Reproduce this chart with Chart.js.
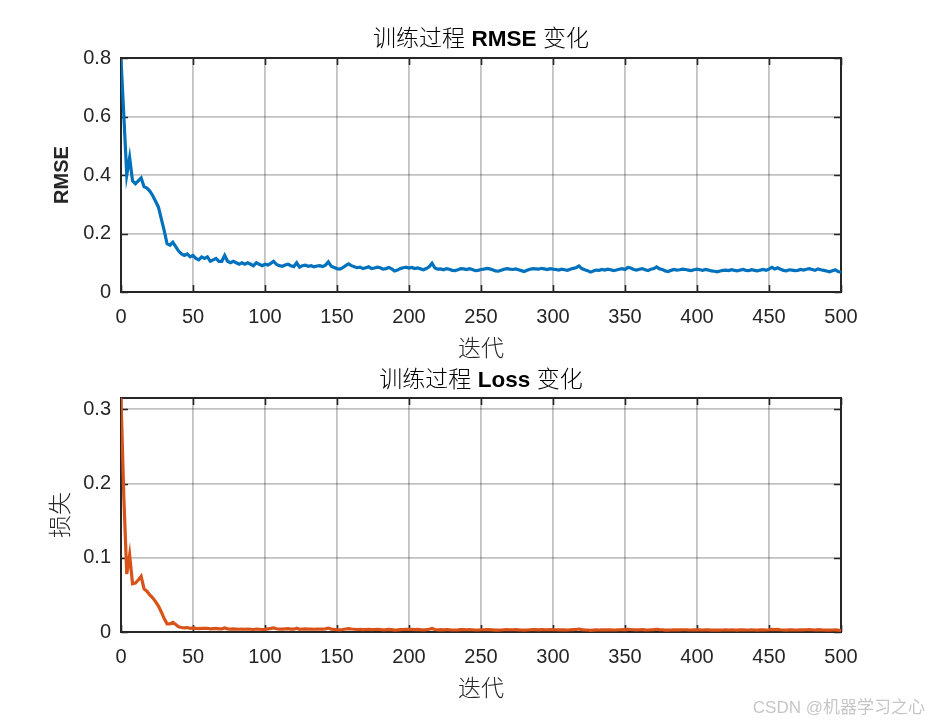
<!DOCTYPE html>
<html>
<head>
<meta charset="utf-8">
<script src="https://cdn.jsdelivr.net/npm/chart.js@4.4.0/dist/chart.umd.min.js"></script>
<style>
  html, body { margin: 0; padding: 0; background: #fff; }
  #wrap { position: relative; width: 930px; height: 720px; overflow: hidden; }
  canvas { position: absolute; left: 0; }
  #c1 { top: 0; }
  #c2 { top: 360px; }
  #mark {
    position: absolute; right: 5px; top: 693px;
    font: 17px 'Liberation Sans', 'Noto Sans CJK SC', sans-serif;
    color: #c6c6c6; white-space: nowrap;
  }
</style>
</head>
<body>
<div id="wrap">
  <canvas id="c1" width="930" height="360"></canvas>
  <canvas id="c2" width="930" height="360"></canvas>
  <div id="mark">CSDN @机器学习之心</div>
</div>
<script>
// ── Data (one value every 2 iterations) ──
const ITER_STEP = 2;

const rmse = [
  0.795, 0.60, 0.40, 0.46, 0.38, 0.37, 0.38, 0.39, 0.36, 0.355,
  0.345, 0.33, 0.31, 0.29, 0.25, 0.21, 0.165, 0.16, 0.17, 0.155,
  0.14, 0.13, 0.125, 0.13, 0.12, 0.125, 0.115, 0.11, 0.12, 0.115,
  0.12, 0.105, 0.11, 0.115, 0.105, 0.105, 0.125, 0.105, 0.10, 0.105,
  0.10, 0.095, 0.10, 0.095, 0.10, 0.095, 0.09, 0.10, 0.095, 0.09,
  0.095,
  0.092, 0.098, 0.105, 0.094, 0.09, 0.088, 0.092, 0.095, 0.09, 0.087,
  0.10, 0.085, 0.09, 0.092, 0.088, 0.09, 0.086, 0.089, 0.09, 0.087,
  0.092, 0.103, 0.088, 0.084, 0.08, 0.078, 0.083, 0.09, 0.096, 0.09,
  0.086, 0.083, 0.085, 0.08, 0.083, 0.086, 0.08, 0.082, 0.085, 0.083,
  0.078, 0.08, 0.084, 0.079, 0.072, 0.075, 0.08, 0.083, 0.085, 0.082,
  0.084, 0.08, 0.082, 0.079, 0.076, 0.08, 0.086, 0.098, 0.082, 0.078,
  0.079, 0.076, 0.08, 0.078, 0.074, 0.073, 0.076, 0.08, 0.079, 0.077,
  0.08, 0.077, 0.073, 0.074, 0.077, 0.078, 0.081, 0.079, 0.076, 0.072,
  0.071, 0.074, 0.078, 0.08, 0.078, 0.077, 0.079, 0.076, 0.073, 0.07,
  0.074, 0.078, 0.08, 0.079, 0.078, 0.081, 0.079, 0.077, 0.08, 0.078,
  0.077, 0.075, 0.078, 0.076, 0.074, 0.078, 0.081, 0.083, 0.089, 0.08,
  0.076, 0.073, 0.068, 0.072, 0.075, 0.074, 0.077, 0.075, 0.078, 0.076,
  0.073, 0.075, 0.078, 0.08, 0.077, 0.084, 0.082, 0.077, 0.075, 0.078,
  0.08, 0.076, 0.073, 0.078, 0.08, 0.086, 0.079, 0.077, 0.072, 0.07,
  0.074, 0.077, 0.075, 0.076, 0.078, 0.077, 0.075, 0.073, 0.076, 0.078,
  0.076, 0.074, 0.077, 0.075, 0.072, 0.071, 0.069, 0.072, 0.074, 0.075,
  0.073, 0.076, 0.074, 0.072, 0.075, 0.077, 0.074, 0.073, 0.076, 0.074,
  0.072, 0.075, 0.077, 0.074, 0.078, 0.084, 0.079, 0.083, 0.078, 0.074,
  0.072, 0.076, 0.075, 0.073, 0.074, 0.077, 0.075, 0.078, 0.08, 0.077,
  0.074, 0.079, 0.076, 0.074, 0.072, 0.069, 0.073, 0.076, 0.07, 0.068
];

const loss = [
  0.3153, 0.18, 0.078, 0.104, 0.065, 0.066, 0.07, 0.075, 0.058, 0.055,
  0.05, 0.046, 0.041, 0.035, 0.027, 0.018, 0.011, 0.011, 0.013, 0.01,
  0.007, 0.006, 0.0055, 0.006, 0.005, 0.0055, 0.0048, 0.0045, 0.005, 0.0048,
  0.005, 0.0042, 0.0045, 0.0048, 0.0042, 0.0042, 0.0055, 0.0042, 0.004, 0.0042,
  0.004, 0.0037, 0.004, 0.0037, 0.004, 0.0037, 0.0034, 0.004, 0.0037, 0.0034,
  0.0036,
  0.0042, 0.0048, 0.0055, 0.0044, 0.004, 0.0039, 0.0042, 0.0045, 0.004, 0.0038,
  0.005, 0.0036, 0.004, 0.0042, 0.0039, 0.004, 0.0037, 0.004, 0.004, 0.0038,
  0.0042, 0.0053, 0.0039, 0.0035, 0.0032, 0.003, 0.0034, 0.004, 0.0046, 0.004,
  0.0037, 0.0034, 0.0036, 0.0032, 0.0034, 0.0037, 0.0032, 0.0034, 0.0036, 0.0034,
  0.003, 0.0032, 0.0035, 0.0031, 0.0026, 0.0028, 0.0032, 0.0034, 0.0036, 0.0034,
  0.0035, 0.0032, 0.0034, 0.0031, 0.0029, 0.0032, 0.0037, 0.0048, 0.0034, 0.003,
  0.0031, 0.0029, 0.0032, 0.003, 0.0027, 0.0027, 0.0029, 0.0032, 0.0031, 0.003,
  0.0032, 0.003, 0.0027, 0.0027, 0.003, 0.003, 0.0033, 0.0031, 0.0029, 0.0026,
  0.0025, 0.0027, 0.003, 0.0032, 0.003, 0.003, 0.0031, 0.0029, 0.0027, 0.0025,
  0.0027, 0.003, 0.0032, 0.0031, 0.003, 0.0033, 0.0031, 0.003, 0.0032, 0.003,
  0.003, 0.0028, 0.003, 0.0029, 0.0027, 0.003, 0.0033, 0.0034, 0.004, 0.0032,
  0.0029, 0.0027, 0.0023, 0.0026, 0.0028, 0.0027, 0.003, 0.0028, 0.003, 0.0029,
  0.0027, 0.0028, 0.003, 0.0032, 0.003, 0.0035, 0.0034, 0.003, 0.0028, 0.003,
  0.0032, 0.0029, 0.0027, 0.003, 0.0032, 0.0037, 0.0031, 0.003, 0.0026, 0.0025,
  0.0027, 0.003, 0.0028, 0.0029, 0.003, 0.003, 0.0028, 0.0027, 0.0029, 0.003,
  0.0029, 0.0027, 0.003, 0.0028, 0.0026, 0.0025, 0.0024, 0.0026, 0.0027, 0.0028,
  0.0027, 0.0029, 0.0027, 0.0026, 0.0028, 0.003, 0.0027, 0.0027, 0.0029, 0.0027,
  0.0026, 0.0028, 0.003, 0.0027, 0.003, 0.0035, 0.0031, 0.0034, 0.003, 0.0027,
  0.0026, 0.0029, 0.0028, 0.0027, 0.0027, 0.003, 0.0028, 0.003, 0.0032, 0.003,
  0.0027, 0.0031, 0.0029, 0.0027, 0.0026, 0.0024, 0.0027, 0.0029, 0.0025, 0.0023
];

const xTicks     = [0, 50, 100, 150, 200, 250, 300, 350, 400, 450, 500];
const rmseTicks  = [0, 0.2, 0.4, 0.6, 0.8];
const lossTicks  = [0, 0.1, 0.2, 0.3];
const rmseMax    = 0.8;
const lossMax    = 0.3153;

// ── Look ───────────────────────────────────────────
const FONT     = "'Liberation Sans', 'Noto Sans CJK SC', sans-serif";
const INK      = '#262626';
const GRID     = 'rgba(0,0,0,0.24)';
const TICK_LEN = 7;
const CJK_SIZE = 23;

// Title with mixed weights, MATLAB-style ("训练过程 **RMSE** 变化")
const splitTitle = {
  id: 'splitTitle',
  afterDraw(chart, args, opts) {
    if (!opts.parts) return;
    const { ctx, chartArea: a } = chart;
    ctx.save();
    ctx.fillStyle = '#000';
    ctx.textBaseline = 'middle';
    ctx.textAlign = 'left';
    const fonts = opts.parts.map(p => `${p.bold ? 'bold' : '300'} ${p.size}px ${FONT}`);
    const widths = opts.parts.map((p, i) => { ctx.font = fonts[i]; return ctx.measureText(p.text).width; });
    let x = (a.left + a.right) / 2 - widths.reduce((s, w) => s + w, 0) / 2;
    opts.parts.forEach((p, i) => {
      ctx.font = fonts[i];
      ctx.fillText(p.text, x, opts.y);
      x += widths[i];
    });
    ctx.restore();
  }
};

// Box and inward ticks on all four sides, drawn under the line
const matlabBox = {
  id: 'matlabBox',
  beforeDatasetsDraw(chart) {
    const { ctx, chartArea: a, scales: { x, y } } = chart;
    ctx.save();
    ctx.strokeStyle = INK;
    ctx.lineWidth = 1.6;
    ctx.beginPath();
    x.ticks.forEach(t => {
      const px = Math.round(x.getPixelForValue(t.value)) + 0.5;
      ctx.moveTo(px, a.bottom); ctx.lineTo(px, a.bottom - TICK_LEN);
      ctx.moveTo(px, a.top);    ctx.lineTo(px, a.top + TICK_LEN);
    });
    y.ticks.forEach(t => {
      const py = Math.round(y.getPixelForValue(t.value)) + 0.5;
      ctx.moveTo(a.left, py);  ctx.lineTo(a.left + TICK_LEN, py);
      ctx.moveTo(a.right, py); ctx.lineTo(a.right - TICK_LEN, py);
    });
    ctx.stroke();
    ctx.lineWidth = 2;
    ctx.strokeRect(a.left, a.top, a.right - a.left, a.bottom - a.top);
    ctx.restore();
  }
};

const makeChart = (id, cfg) => {
  const points = cfg.values.map((v, i) => ({ x: i * ITER_STEP, y: v }));
  return new Chart(document.getElementById(id), {
    type: 'line',
    data: {
      datasets: [{
        data: points,
        borderColor: cfg.color,
        borderWidth: 3.2,
        pointRadius: 0,
        tension: 0,
        fill: false
      }]
    },
    plugins: [matlabBox, splitTitle],
    options: {
      responsive: false,
      animation: false,
      events: [],
      layout: { padding: { left: 0, right: 89, top: cfg.top, bottom: 0 } },
      plugins: {
        legend: { display: false },
        tooltip: { enabled: false },
        splitTitle: { parts: cfg.title, y: cfg.titleY }
      },
      scales: {
        x: {
          type: 'linear',
          min: 0,
          max: 500,
          afterBuildTicks: s => { s.ticks = xTicks.map(v => ({ value: v })); },
          afterFit: s => { s.height = cfg.xHeight; },
          grid: { color: GRID, lineWidth: 1.8, drawTicks: false },
          border: { display: false },
          ticks: {
            padding: 13,
            maxRotation: 0,
            autoSkip: false,
            color: INK,
            font: { family: FONT, size: 20 },
            callback: v => String(v)
          },
          title: {
            display: true,
            text: '迭代',
            color: INK,
            font: { family: FONT, size: CJK_SIZE, weight: 300 },
            padding: { top: 0, bottom: cfg.xTitlePad }
          }
        },
        y: {
          min: 0,
          max: cfg.max,
          afterBuildTicks: s => { s.ticks = cfg.ticks.map(v => ({ value: v })); },
          afterFit: s => { s.width = 121; },
          grid: { color: GRID, lineWidth: 1.8, drawTicks: false },
          border: { display: false },
          ticks: {
            padding: 10,
            color: INK,
            font: { family: FONT, size: 20 },
            callback: v => String(v)
          },
          title: {
            display: true,
            text: cfg.yTitle,
            color: INK,
            font: cfg.yBold
              ? { family: FONT, size: 20, weight: 'bold' }
              : { family: FONT, size: CJK_SIZE, weight: 300 },
            padding: { top: cfg.yBold ? 50 : 48, bottom: 0 }
          }
        }
      }
    }
  });
};

makeChart('c1', {
  values: rmse,
  color: '#0072BD',
  max: rmseMax,
  ticks: rmseTicks,
  top: 58,
  xHeight: 68,
  xTitlePad: -3,
  titleY: 40,
  yTitle: 'RMSE',
  yBold: true,
  title: [
    { text: '训练过程 ', size: CJK_SIZE },
    { text: 'RMSE', bold: true, size: 22.5 },
    { text: ' 变化', size: CJK_SIZE }
  ]
});

makeChart('c2', {
  values: loss,
  color: '#D95319',
  max: lossMax,
  ticks: lossTicks,
  top: 38,
  xHeight: 88,
  xTitlePad: 17,
  titleY: 21,
  yTitle: '损失',
  yBold: false,
  title: [
    { text: '训练过程 ', size: CJK_SIZE },
    { text: 'Loss', bold: true, size: 22.5 },
    { text: ' 变化', size: CJK_SIZE }
  ]
});
</script>
</body>
</html>
